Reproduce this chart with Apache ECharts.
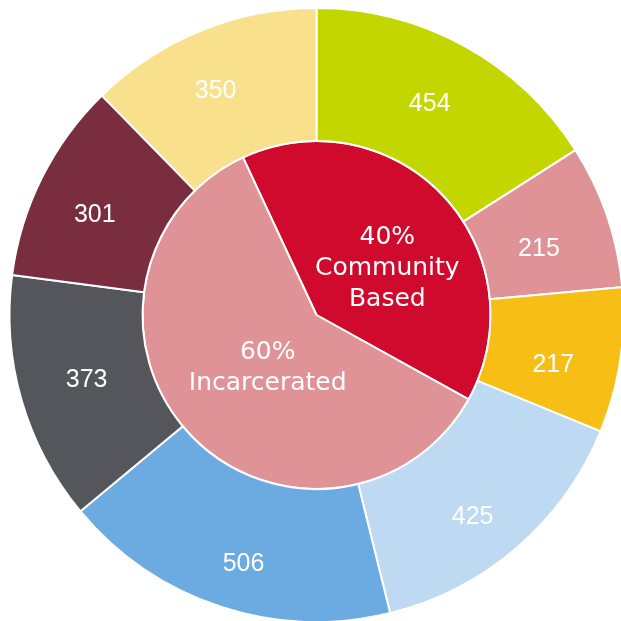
<!DOCTYPE html>
<html>
<head>
<meta charset="utf-8">
<script src="https://cdn.jsdelivr.net/npm/echarts@6/dist/echarts.min.js"></script>
<style>html,body{margin:0;padding:0;background:#fff;}#c{width:621px;height:621px;}</style>
</head>
<body>
<div id="c"></div>
<script>
// Inner pie
const innerNames = ['Community\nBased', 'Incarcerated'];
const innerValues = [40, 60];
const innerColors = ['#CF0A2C', '#E09397'];
const innerLabelOffsets = [[5, 15], [17, -8]];

// Outer ring
const outerValues = [454, 215, 217, 425, 506, 373, 301, 350];
const outerColors = ['#C4D600', '#E09397', '#F7BE16', '#BED9F2', '#6CAAE2', '#55565B', '#7A2D3F', '#F9E08C'];
const outerLabelOffsets = [[-4, 3], [-8, 13], [-4, 14], [-3, 18], [3, 18], [4, -3], [-4, 9], [-9, 2]];

const chart = echarts.init(document.getElementById('c'), null, {renderer: 'canvas'});
chart.setOption({
  animation: false,
  series: [
    {
      type: 'pie',
      center: [316.5, 315],
      radius: [0, 174],
      startAngle: 115,
      clockwise: true,
      silent: true,
      itemStyle: {borderColor: '#fff', borderWidth: 2},
      label: {
        position: 'inside',
        color: '#fff',
        fontFamily: 'DejaVu Sans',
        fontSize: 25,
        lineHeight: 31,
        formatter: p => p.value + '%\n' + p.name
      },
      labelLine: {show: false},
      data: innerValues.map((v, i) => ({
        value: v, name: innerNames[i],
        itemStyle: {color: innerColors[i]},
        label: {offset: innerLabelOffsets[i]}
      }))
    },
    {
      type: 'pie',
      center: [316.5, 315],
      radius: [174, 307],
      startAngle: 90,
      clockwise: true,
      silent: true,
      itemStyle: {borderColor: '#fff', borderWidth: 2},
      label: {
        position: 'inside',
        color: '#fff',
        fontFamily: 'Liberation Sans',
        fontSize: 25,
        formatter: '{c}'
      },
      labelLine: {show: false},
      data: outerValues.map((v, i) => ({
        value: v, name: String(v),
        itemStyle: {color: outerColors[i]},
        label: {offset: outerLabelOffsets[i]}
      }))
    }
  ]
});
</script>
</body>
</html>
